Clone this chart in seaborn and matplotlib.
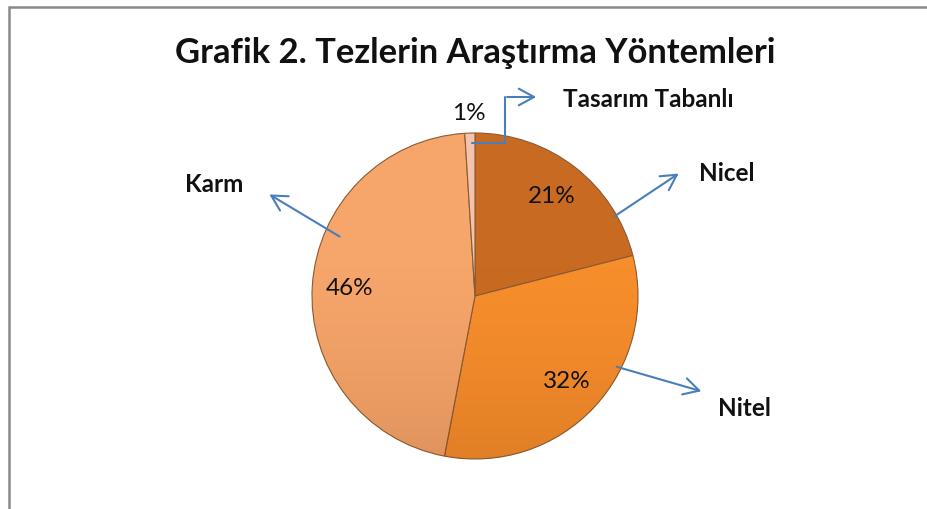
import matplotlib
matplotlib.use("Agg")
import matplotlib.pyplot as plt
import numpy as np
import seaborn as sns
from matplotlib.patches import Circle

# data
categories = ['Nicel', 'Nitel', 'Karm', 'Tasarım Tabanlı']
values = [21, 32, 46, 1]
colors = ['#C96A22', '#F78E2C', '#F6A66B', '#F3C3AE']
title = 'Grafik 2. Tezlerin Araştırma Yöntemleri'

sns.set_style("white")
plt.rcParams['font.family'] = ['Lato', 'DejaVu Sans']

W, H = 928, 509
fig = plt.figure(figsize=(W / 100, H / 100), dpi=100)
ax = fig.add_axes([0, 0, 1, 1])
ax.set_xlim(0, W)
ax.set_ylim(0, H)
ax.axis('off')

cx, cy, R = 475, 213, 163
wedges, texts, autotexts = ax.pie(
    values, colors=colors, startangle=90, counterclock=False,
    center=(cx, cy), radius=R, autopct='%1.0f%%', pctdistance=0.77,
    wedgeprops=dict(edgecolor='#8C5A32', linewidth=0.8),
    textprops=dict(fontsize=17.5, color='#111111'))

# soft shading on the pie: transparent at top, slightly darker at the bottom
ramp = np.clip((np.linspace(0, 1, 256) - 0.35) / 0.65, 0, 1) ** 1.5
rgba = np.zeros((256, 1, 4))
rgba[..., 0] = 0.35
rgba[..., 1] = 0.15
rgba[..., 3] = (0.14 * ramp).reshape(-1, 1)
shade = ax.imshow(rgba, extent=(cx - R, cx + R, cy - R, cy + R), origin='upper',
                  zorder=1.5, aspect='auto', interpolation='bilinear')
shade.set_clip_path(Circle((cx, cy), R, transform=ax.transData))
ax.set_xlim(0, W)
ax.set_ylim(0, H)

# small slice label goes outside
w = wedges[3]
mid = np.deg2rad((w.theta1 + w.theta2) / 2)
autotexts[3].set_position((cx + 1.12 * R * np.cos(mid), cy + 1.12 * R * np.sin(mid)))
for t in autotexts:
    t.set_zorder(3)

blue = '#4A7EBB'
arrow = dict(arrowstyle='->,head_length=1.1,head_width=0.6', color=blue, lw=1.5)

def label(name, start, end, textpos, ha='left'):
    ax.annotate('', xy=(end[0], H - end[1]), xytext=(start[0], H - start[1]),
                arrowprops=arrow, zorder=4)
    ax.text(textpos[0], H - textpos[1], name, fontsize=17.5, fontweight='bold',
            ha=ha, va='center', color='#111111')

label(categories[0], (612, 218), (681, 172), (699, 173))
label(categories[1], (614, 366), (704, 392), (718, 409))
label(categories[2], (342, 238), (267, 193), (185, 184))

# elbow connector for the 1% slice
ax.plot([472, 505, 505], [H - 143, H - 143, H - 97], color=blue, lw=1.5,
        solid_joinstyle='miter', zorder=4)
ax.annotate('', xy=(539, H - 97), xytext=(504.3, H - 97), arrowprops=arrow)
ax.text(563, H - 99, categories[3], fontsize=17.5, fontweight='bold',
        ha='left', va='center', color='#111111')

ax.text(475, H - 53, title, fontsize=24.8, fontweight='bold', ha='center',
        va='center', color='#111111')

# chart border (left and top edges visible)
ax.plot([9.5, 9.5, W], [0, H - 6.5, H - 6.5], color='#8A8A8A', lw=1.8,
        solid_joinstyle='miter')

fig.savefig('out.png', dpi=100)
